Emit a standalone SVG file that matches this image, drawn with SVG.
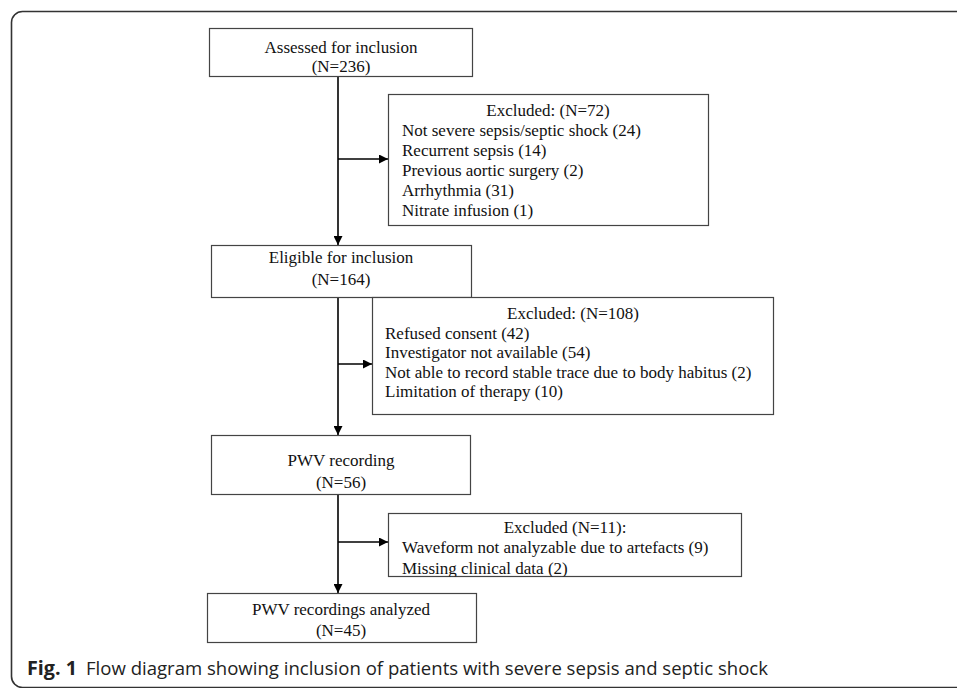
<svg xmlns="http://www.w3.org/2000/svg" width="957" height="688" viewBox="0 0 957 688">
<style>
.box{fill:#fff;stroke:#444;stroke-width:1.2}
.t{font-family:"Liberation Serif","Times New Roman",serif;font-size:17px;fill:#111}
.c{text-anchor:middle}
.conn{stroke:#000;stroke-width:1.6;fill:none}
.cap{font-family:"Open Sans","Noto Sans",sans-serif;font-size:19px;fill:#222}
</style>
<defs>
<marker id="ah" viewBox="0 0 10 10" refX="10" refY="5" markerWidth="9" markerHeight="9" markerUnits="userSpaceOnUse" orient="auto">
<path d="M0,0 L10,5 L0,10 z" fill="#000"/>
</marker>
<clipPath id="clip3"><rect x="388" y="513" width="353" height="63.5"/></clipPath>
</defs>
<rect x="11.5" y="11.5" width="980" height="676" rx="11" ry="11" fill="none" stroke="#333" stroke-width="1.6"/>
<g id="connectors">
<line class="conn" x1="338" y1="76" x2="338" y2="245" marker-end="url(#ah)"/>
<line class="conn" x1="338" y1="159" x2="388" y2="159" marker-end="url(#ah)"/>
<line class="conn" x1="338" y1="297" x2="338" y2="435" marker-end="url(#ah)"/>
<line class="conn" x1="338" y1="364" x2="372" y2="364" marker-end="url(#ah)"/>
<line class="conn" x1="338" y1="494" x2="338" y2="593" marker-end="url(#ah)"/>
<line class="conn" x1="338" y1="542" x2="388" y2="542" marker-end="url(#ah)"/>
</g>
<g id="assessed">
<rect class="box" x="209.5" y="28.5" width="263" height="48"/>
<text class="t c" x="341" y="53">Assessed for inclusion</text>
<text class="t c" x="341" y="72">(N=236)</text>
</g>
<g id="excluded1">
<rect class="box" x="388.5" y="94.5" width="320" height="131"/>
<text class="t c" x="548" y="116">Excluded: (N=72)</text>
<text class="t" x="402" y="136">Not severe sepsis/septic shock (24)</text>
<text class="t" x="402" y="156">Recurrent sepsis (14)</text>
<text class="t" x="402" y="176">Previous aortic surgery (2)</text>
<text class="t" x="402" y="196">Arrhythmia (31)</text>
<text class="t" x="402" y="216">Nitrate infusion (1)</text>
</g>
<g id="eligible">
<rect class="box" x="211.5" y="245.5" width="260" height="52"/>
<text class="t c" x="341" y="263">Eligible for inclusion</text>
<text class="t c" x="341" y="285">(N=164)</text>
</g>
<g id="excluded2">
<rect class="box" x="372.5" y="297.5" width="401" height="117"/>
<text class="t c" x="573" y="319">Excluded: (N=108)</text>
<text class="t" x="385" y="339">Refused consent (42)</text>
<text class="t" x="385" y="358">Investigator not available (54)</text>
<text class="t" x="385" y="378">Not able to record stable trace due to body habitus (2)</text>
<text class="t" x="385" y="397">Limitation of therapy (10)</text>
</g>
<g id="pwv">
<rect class="box" x="211.5" y="435.5" width="259" height="59"/>
<text class="t c" x="341" y="466">PWV recording</text>
<text class="t c" x="341" y="488">(N=56)</text>
</g>
<g id="excluded3">
<rect class="box" x="388.5" y="513.5" width="353" height="63"/>
<g clip-path="url(#clip3)">
<text class="t c" x="565" y="533">Excluded (N=11):</text>
<text class="t" x="402" y="553">Waveform not analyzable due to artefacts (9)</text>
<text class="t" x="402" y="574">Missing clinical data (2)</text>
</g>
</g>
<g id="analyzed">
<rect class="box" x="207.5" y="593.5" width="269" height="49"/>
<text class="t c" x="341" y="615">PWV recordings analyzed</text>
<text class="t c" x="341" y="636">(N=45)</text>
</g>
<g id="caption">
<text class="cap" x="27" y="675" font-weight="bold" textLength="50" lengthAdjust="spacingAndGlyphs">Fig. 1</text>
<text class="cap" x="86" y="675" textLength="682" lengthAdjust="spacingAndGlyphs">Flow diagram showing inclusion of patients with severe sepsis and septic shock</text>
</g>
</svg>
